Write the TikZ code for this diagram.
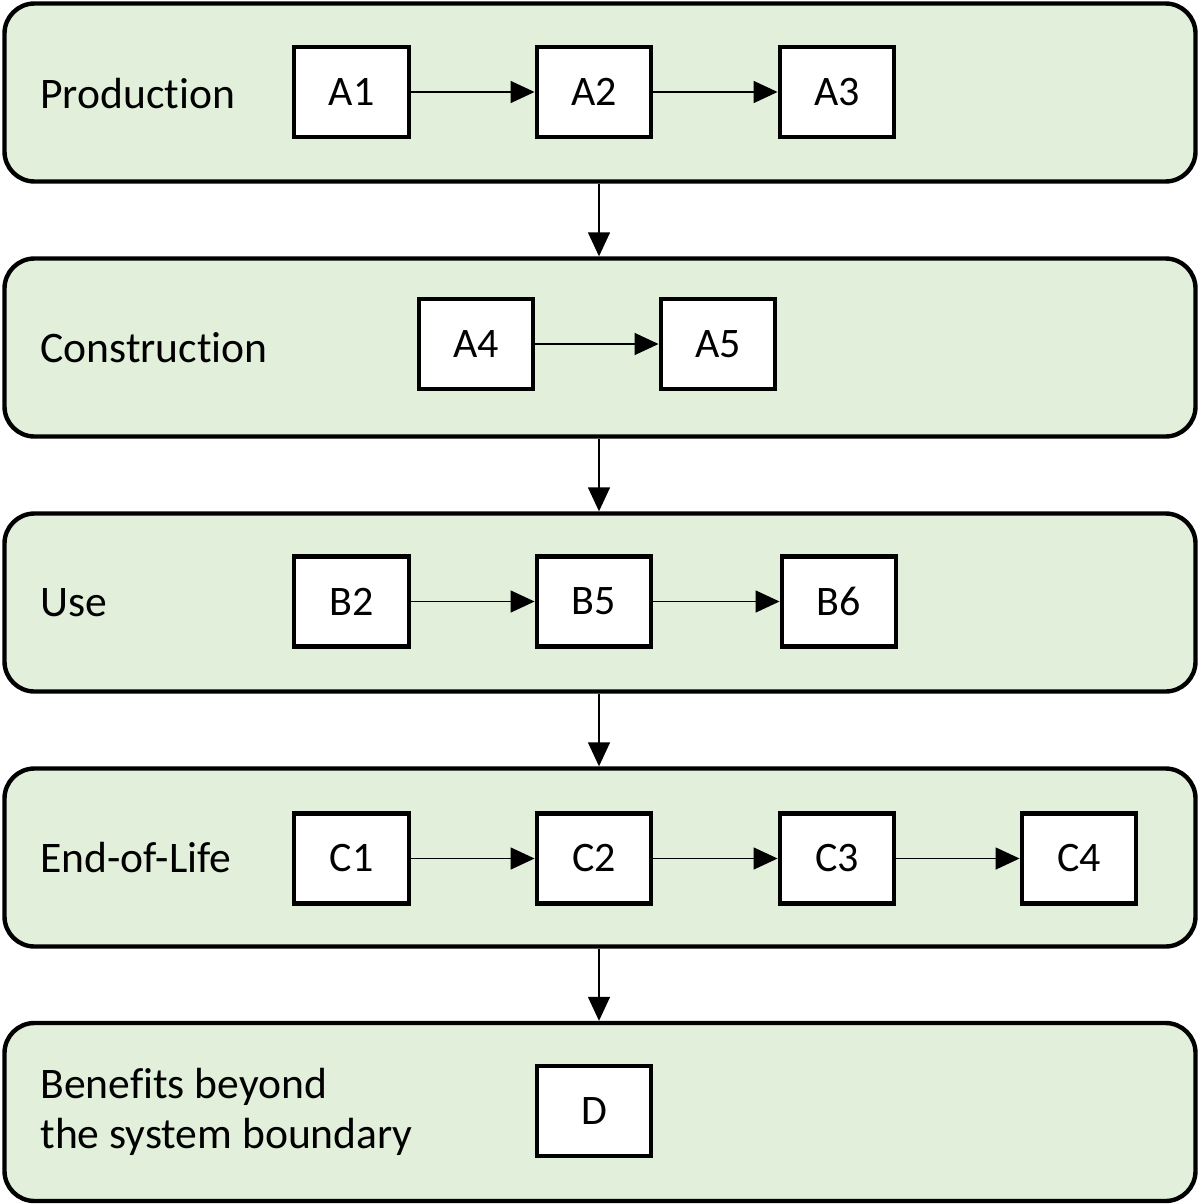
\documentclass[tikz,border=0pt]{standalone}
\usepackage{fontspec}
\setmainfont{Carlito}[Ligatures={NoCommon,NoContextual}]
\usetikzlibrary{arrows.meta}
\definecolor{panelgreen}{HTML}{E2EFDA}
\begin{document}
\begin{tikzpicture}[x=0.5pt,y=-0.5pt,
  panel/.style={draw=black, line width=2.2pt, fill=panelgreen, rounded corners=15pt,
    minimum width=595.5pt, minimum height=89pt, inner sep=0pt},
  stage/.style={draw=black, line width=2.2pt, fill=white,
    minimum width=57.25pt, minimum height=45pt, inner sep=0pt, font=\fontsize{21}{25}\selectfont},
  lbl/.style={anchor=west, inner sep=0pt, font=\fontsize{21.8}{25}\selectfont},
  flow/.style={line width=0.75pt, -{Triangle[length=12pt,width=11pt]}}]
\useasboundingbox (0,0) rectangle (1200,1204);
% panels
\node[panel] (P1) at (600,92.5) {};
\node[panel] (P2) at (600,347.5) {};
\node[panel] (P3) at (600,602.5) {};
\node[panel] (P4) at (600,857.5) {};
\node[panel] (P5) at (600,1112) {};
% labels
\node[lbl] (L1) at (40,93.5) {Production};
\node[lbl] (L2) at (40,348) {Construction};
\node[lbl] (L3) at (40,603) {Use};
\node[lbl] (L4) at (40,858) {End-of-Life};
\node[lbl, anchor=base west, align=left] (L5) at (40,1148) {Benefits beyond\\the system boundary};
% stages
\node[stage] (A1) at (351.5,92) {A1};
\node[stage] (A2) at (594,92) {A2};
\node[stage] (A3) at (837,92) {A3};
\node[stage] (A4) at (476,344) {A4};
\node[stage] (A5) at (718,344) {A5};
\node[stage] (B2) at (351.5,601.5) {B2};
\node[stage] (B5) at (594,601.5) {B5};
\node[stage] (B6) at (839,601.5) {B6};
\node[stage] (C1) at (351.5,858.5) {C1};
\node[stage] (C2) at (594,858.5) {C2};
\node[stage] (C3) at (837,858.5) {C3};
\node[stage] (C4) at (1079,858.5) {C4};
\node[stage] (D) at (594,1111) {D};
% horizontal flows
\draw[flow] (A1) -- (A2);
\draw[flow] (A2) -- (A3);
\draw[flow] (A4) -- (A5);
\draw[flow] (B2) -- (B5);
\draw[flow] (B5) -- (B6);
\draw[flow] (C1) -- (C2);
\draw[flow] (C2) -- (C3);
\draw[flow] (C3) -- (C4);
% vertical flows
\draw[flow] (P1.south -| 599,0) -- (P2.north -| 599,0);
\draw[flow] (P2.south -| 599,0) -- (P3.north -| 599,0);
\draw[flow] (P3.south -| 599,0) -- (P4.north -| 599,0);
\draw[flow] (P4.south -| 599,0) -- (P5.north -| 599,0);
\end{tikzpicture}
\end{document}
